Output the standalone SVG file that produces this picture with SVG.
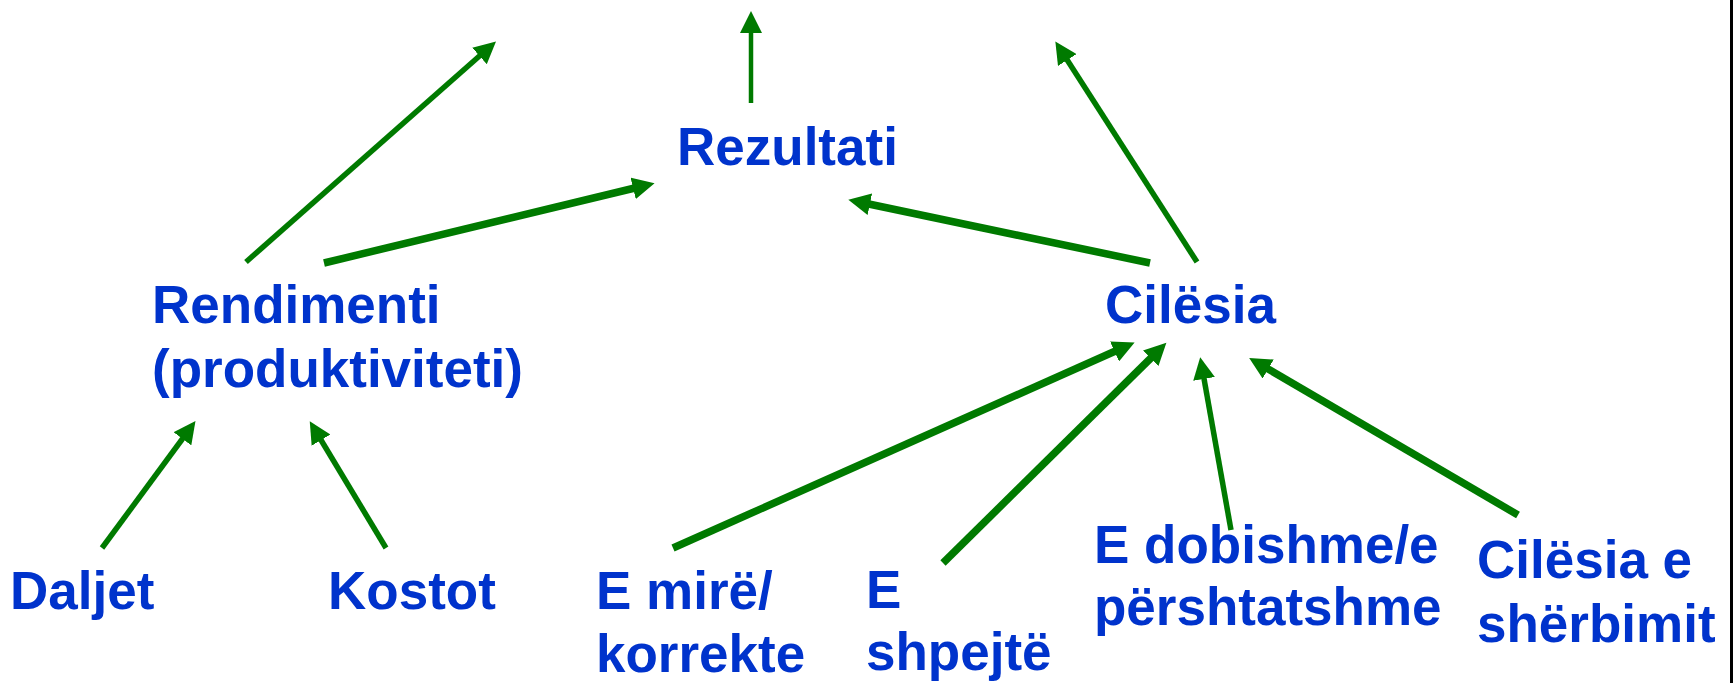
<svg xmlns="http://www.w3.org/2000/svg" width="1734" height="683" viewBox="0 0 1734 683">
  <defs>
    <style>
      .lbl { font-family: "Liberation Sans", Arial, sans-serif; font-weight: bold; font-size: 53px; fill: #0033CC; }
      .c { stroke: #007A00; fill: none; stroke-linecap: butt; }
      .w4 { stroke-width: 4.5; }
      .w5 { stroke-width: 5.5; }
      .w7 { stroke-width: 7.5; }
    </style>
    <marker id="ah" markerUnits="userSpaceOnUse" markerWidth="24" markerHeight="22" viewBox="0 0 24 22" refX="6" refY="11" orient="auto">
      <path d="M0,0 L22,11 L0,22 z" fill="#007A00"/>
    </marker>
  </defs>
  <rect width="1734" height="683" fill="#FFFFFF"/>
  <line x1="1731.5" y1="0" x2="1731.5" y2="683" stroke="#000000" stroke-width="3"/>

  <g id="connectors" marker-end="url(#ah)">
    <line class="c w5" x1="246" y1="262" x2="484" y2="52" marker-end="url(#ah)"/>
    <line class="c w7" x1="324" y1="263" x2="639" y2="187" marker-end="url(#ah)"/>
    <line class="c w4" x1="751" y1="103" x2="751" y2="27" marker-end="url(#ah)"/>
    <line class="c w7" x1="1150" y1="263" x2="864" y2="203" marker-end="url(#ah)"/>
    <line class="c w5" x1="1197" y1="262" x2="1064" y2="55" marker-end="url(#ah)"/>
    <line class="c w7" x1="673" y1="548" x2="1120" y2="349" marker-end="url(#ah)"/>
    <line class="c w7" x1="943" y1="563" x2="1155" y2="354" marker-end="url(#ah)"/>
    <line class="c w5" x1="1231" y1="530" x2="1203" y2="373" marker-end="url(#ah)"/>
    <line class="c w7" x1="1518" y1="515" x2="1263" y2="366" marker-end="url(#ah)"/>
    <line class="c w5" x1="102" y1="548" x2="186" y2="434" marker-end="url(#ah)"/>
    <line class="c w5" x1="386" y1="548" x2="318" y2="435" marker-end="url(#ah)"/>
  </g>

  <g id="rezultati"><text class="lbl" x="677" y="165">Rezultati</text></g>
  <g id="rendimenti"><text class="lbl" x="152" y="323">Rendimenti</text><text class="lbl" x="152" y="387">(produktiviteti)</text></g>
  <g id="cilesia"><text class="lbl" x="1105" y="323">Cilësia</text></g>
  <g id="daljet"><text class="lbl" x="10" y="609">Daljet</text></g>
  <g id="kostot"><text class="lbl" x="328" y="609">Kostot</text></g>
  <g id="e-mire"><text class="lbl" x="596" y="609">E mirë/</text><text class="lbl" x="596" y="672">korrekte</text></g>
  <g id="e-shpejte"><text class="lbl" x="866" y="608">E</text><text class="lbl" x="866" y="670">shpejtë</text></g>
  <g id="e-dobishme"><text class="lbl" x="1094" y="563">E dobishme/e</text><text class="lbl" x="1094" y="625">përshtatshme</text></g>
  <g id="cilesia-sherbimit"><text class="lbl" x="1477" y="578">Cilësia e</text><text class="lbl" x="1477" y="642">shërbimit</text></g>
</svg>
